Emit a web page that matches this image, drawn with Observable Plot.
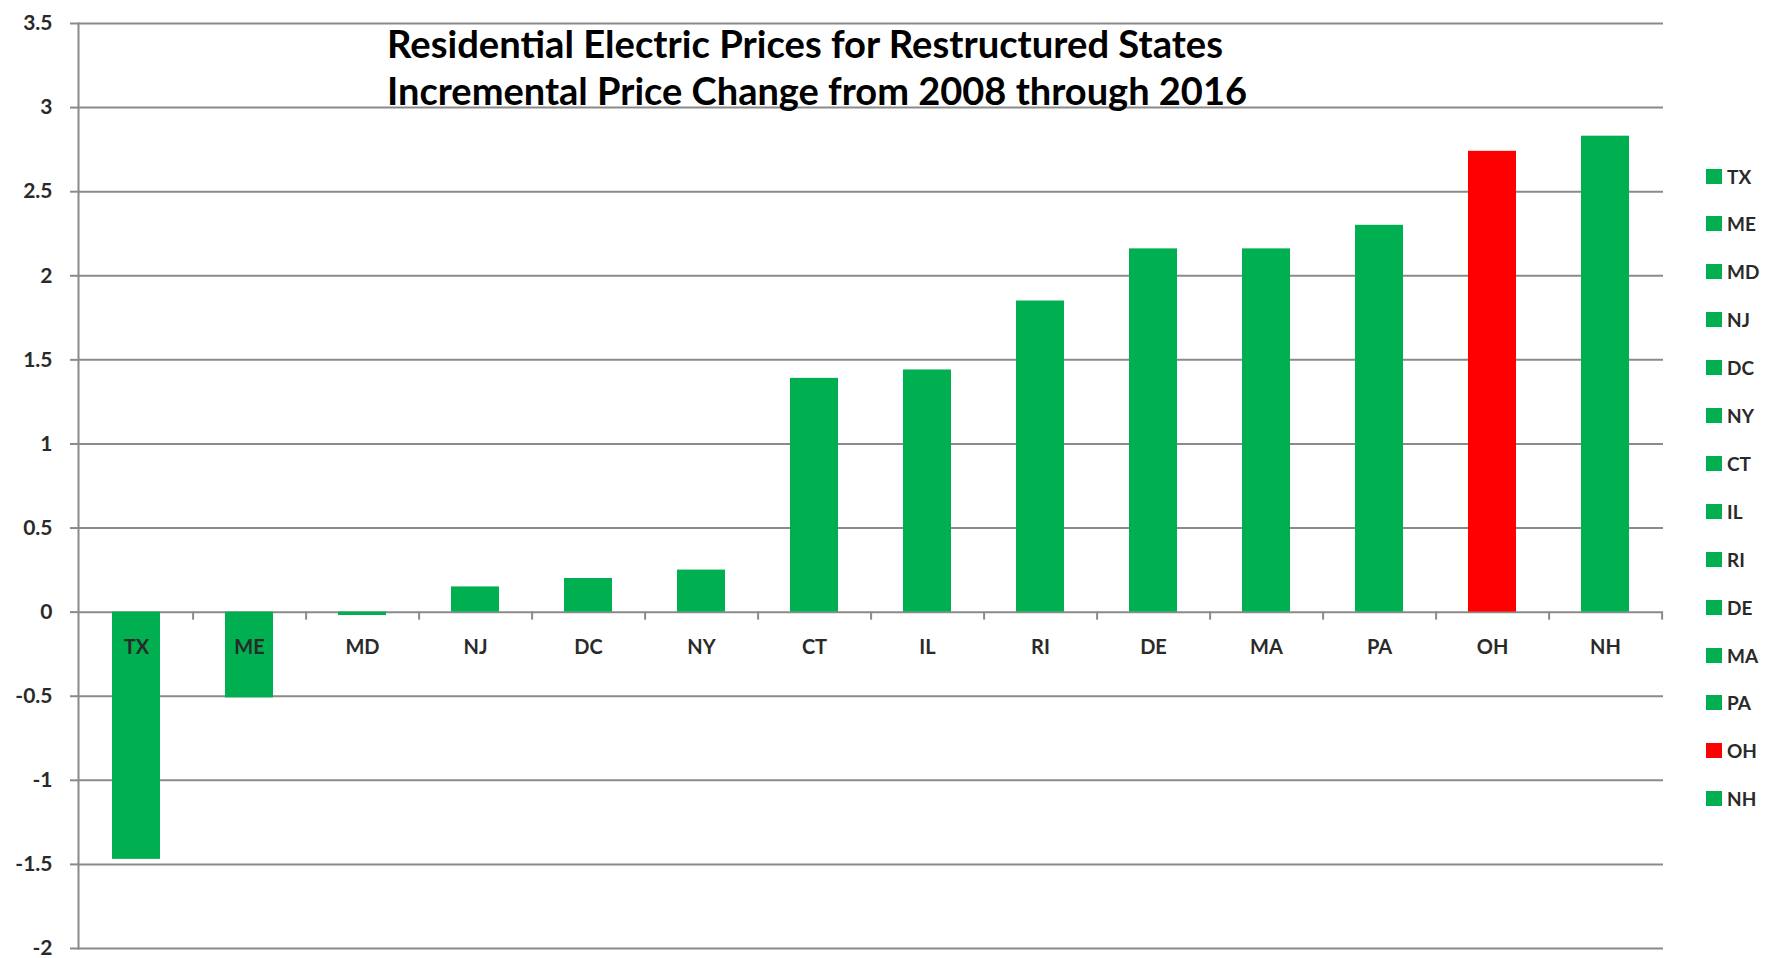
<!DOCTYPE html>
<html><head><meta charset="utf-8">
<script src="https://cdn.jsdelivr.net/npm/d3@7"></script>
<script src="https://cdn.jsdelivr.net/npm/@observablehq/plot@0.6"></script>
<style>
html,body{margin:0;padding:0;background:#fff;}
#wrap{position:relative;width:1769px;height:958px;overflow:hidden;background:#fff;}
#legend{position:absolute;left:1706px;top:0;font-family:Lato,"Open Sans",sans-serif;font-size:19px;font-weight:700;color:#2a2a2a;}
.item{position:absolute;left:0;display:flex;align-items:center;height:20px;white-space:nowrap;}
.sw{width:16px;height:15px;margin-right:5px;}
</style></head><body><div id="wrap"><div id="legend"></div></div>
<script>
// ---- data ----
const states = ["TX","ME","MD","NJ","DC","NY","CT","IL","RI","DE","MA","PA","OH","NH"];
const changes = [-1.47,-0.51,-0.02,0.15,0.20,0.25,1.39,1.44,1.85,2.16,2.16,2.30,2.74,2.83];
const highlighted = ["OH"];
const yTicks = [-2,-1.5,-1,-0.5,0,0.5,1,1.5,2,2.5,3,3.5];
const titleLines = ["Residential Electric Prices for Restructured States","Incremental Price Change from 2008 through 2016"];

// ---- styles ----
const GREEN = "#00B050", RED = "#FF0000", GRID = "#8a8a8a", TEXT = "#2a2a2a";
const W = 1769, H = 958, ML = 78, MR = 106, MT = 23, MB = 10;
const FONT = "Lato, 'Open Sans', sans-serif";

const data = states.map((s, i) => ({state: s, change: changes[i], color: highlighted.includes(s) ? RED : GREEN}));
const step = (W - ML - MR) / states.length;
const pxPerUnit = (H - MT - MB) / (yTicks[yTicks.length - 1] - yTicks[0]);
const tickLen = 8 / pxPerUnit;

const chart = Plot.plot({
  width: W, height: H,
  marginLeft: ML, marginRight: MR, marginTop: MT, marginBottom: MB,
  style: {fontFamily: FONT, fontSize: "21px", fontWeight: 700, color: TEXT, background: "#fff"},
  x: {domain: states, paddingInner: 0.575, paddingOuter: 0.2875, axis: null},
  y: {domain: [yTicks[0], yTicks[yTicks.length - 1]], axis: null},
  color: {type: "identity"},
  marks: [
    Plot.gridY(yTicks, {stroke: GRID, strokeOpacity: 1, strokeWidth: 2}),
    Plot.axisY({ticks: yTicks, label: null, tickSize: 8, tickPadding: 18, stroke: GRID, strokeWidth: 2, tickFormat: d => String(d), fill: TEXT, fontSize: 21, fontWeight: 700}),
    Plot.barY(data, {x: "state", y: "change", fill: "color"}),
    Plot.ruleX(states, {x: d => d, dx: step / 2, y1: () => 0, y2: () => -tickLen, stroke: GRID, strokeWidth: 2}),
    Plot.frame({anchor: "left", stroke: GRID, strokeWidth: 2}),
    Plot.text(states, {x: d => d, y: () => 0, dy: 35, text: d => d, fill: TEXT, fontSize: 20, fontWeight: 700})
  ]
});
document.getElementById("wrap").prepend(chart);

// title inside the plot area
const svg = d3.select(chart.tagName.toLowerCase() === "svg" ? chart : chart.querySelector("svg"));
const titleSpec = [{x: 387, y: 58, len: 836}, {x: 387, y: 105, len: 860}];
titleLines.forEach((t, i) => {
  svg.append("text")
    .attr("x", titleSpec[i].x).attr("y", titleSpec[i].y)
    .attr("text-anchor", "start")
    .attr("textLength", titleSpec[i].len).attr("lengthAdjust", "spacingAndGlyphs")
    .attr("font-family", FONT).attr("font-size", 38).attr("font-weight", 700)
    .attr("fill", "#000").text(t);
});

// legend on the right
const legend = document.getElementById("legend");
data.forEach((d, i) => {
  const it = document.createElement("div");
  it.className = "item";
  it.style.top = (176 + 47.9 * i - 10) + "px";
  const sw = document.createElement("span");
  sw.className = "sw"; sw.style.background = d.color;
  const lab = document.createElement("span");
  lab.textContent = d.state;
  it.append(sw, lab);
  legend.append(it);
});
</script></body></html>
